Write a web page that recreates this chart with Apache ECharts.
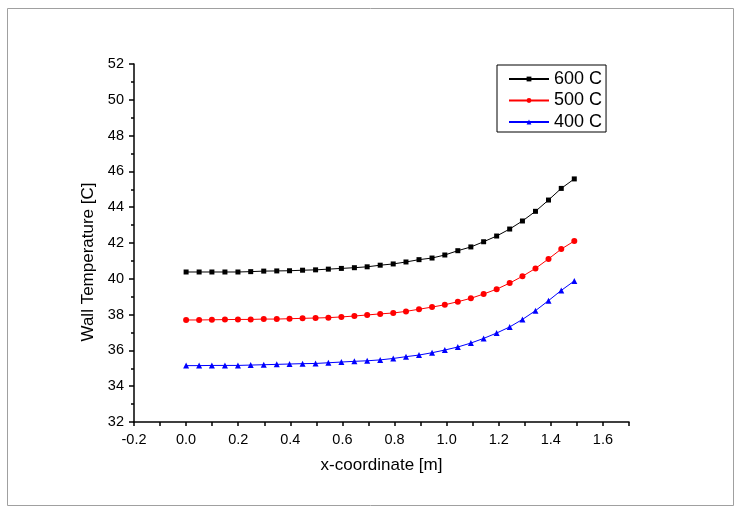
<!DOCTYPE html>
<html><head><meta charset="utf-8">
<script src="https://cdn.jsdelivr.net/npm/echarts@6/dist/echarts.min.js"></script>
<style>html,body{margin:0;padding:0;background:#fff}#c{width:742px;height:511px}</style>
</head><body><div id="c"></div>
<script>
const xValues = [0.000,0.050,0.099,0.149,0.199,0.248,0.298,0.348,0.397,0.447,0.497,0.546,0.596,0.646,0.695,0.745,0.795,0.844,0.894,0.944,0.993,1.043,1.093,1.142,1.192,1.242,1.291,1.341,1.391,1.440,1.490];
const t600 = [40.38,40.38,40.38,40.38,40.38,40.40,40.43,40.44,40.45,40.48,40.50,40.54,40.58,40.62,40.67,40.76,40.83,40.94,41.07,41.16,41.33,41.57,41.78,42.07,42.39,42.78,43.23,43.77,44.40,45.05,45.58];
const t500 = [37.70,37.70,37.71,37.72,37.73,37.73,37.75,37.75,37.77,37.79,37.81,37.83,37.87,37.92,37.98,38.04,38.09,38.18,38.30,38.42,38.55,38.72,38.91,39.15,39.42,39.76,40.14,40.58,41.11,41.66,42.11];
const t400 = [35.15,35.15,35.16,35.16,35.16,35.18,35.20,35.22,35.24,35.26,35.27,35.31,35.35,35.39,35.42,35.47,35.55,35.65,35.74,35.87,36.02,36.19,36.41,36.67,36.97,37.31,37.73,38.22,38.78,39.35,39.88];
const seriesNames = ['600 C','500 C','400 C'];
const seriesColors = ['#000000','#ff0000','#0000ff'];
const seriesSymbols = ['rect','circle','triangle'];
const seriesSizes = [5,6,6];
const xTickLabels = ['-0.2','0.0','0.2','0.4','0.6','0.8','1.0','1.2','1.4','1.6'];
const font = 'Liberation Sans, Arial, sans-serif';

const allData = [t600, t500, t400];
const chart = echarts.init(document.getElementById('c'), null, {renderer:'canvas'});
chart.setOption({
  animation: false,
  backgroundColor: '#ffffff',
  graphic: [{
    type: 'rect', shape: {x: 7.5, y: 8.5, width: 726, height: 497},
    style: {fill: 'none', stroke: '#a0a0a0', lineWidth: 1}, silent: true, z: -1
  }],
  grid: {left: 134, right: 113, top: 64, bottom: 89},
  legend: {
    orient: 'vertical', left: 497, top: 65,
    padding: [5, 4, 1, 11], itemWidth: 40, itemHeight: 6, itemGap: 3.5,
    borderColor: '#000', borderWidth: 1,
    data: seriesNames,
    textStyle: {fontFamily: font, fontSize: 18, color: '#000', lineHeight: 18}
  },
  xAxis: {
    type: 'value', min: -0.2, max: 1.7, interval: 0.1,
    name: 'x-coordinate [m]', nameLocation: 'middle', nameGap: 35,
    nameTextStyle: {fontFamily: font, fontSize: 17, color: '#000'},
    axisLine: {show: true, onZero: false, lineStyle: {color: '#000', width: 1.5}},
    axisTick: {show: true, length: 4, lineStyle: {color: '#000', width: 1.5}},
    splitLine: {show: false},
    axisLabel: {
      margin: 10, fontFamily: font, fontSize: 14.5, color: '#000',
      formatter: function (v) {
        const key = (Math.abs(v) < 1e-9 ? 0 : v).toFixed(1);
        return xTickLabels.indexOf(key) >= 0 ? key : '';
      }
    }
  },
  yAxis: {
    type: 'value', min: 32, max: 52, interval: 2,
    name: 'Wall Temperature [C]', nameLocation: 'middle', nameGap: 37,
    nameTextStyle: {fontFamily: font, fontSize: 17, color: '#000', padding: [0, 38, 0, 0]},
    axisLine: {show: true, onZero: false, lineStyle: {color: '#000', width: 1.5}},
    axisTick: {show: true, length: 5, lineStyle: {color: '#000', width: 1.5}},
    minorTick: {show: true, splitNumber: 2, length: 3, lineStyle: {color: '#000', width: 1.5}},
    splitLine: {show: false},
    axisLabel: {margin: 10, fontFamily: font, fontSize: 14.5, color: '#000'}
  },
  series: seriesNames.map(function (name, k) {
    return {
      name: name, type: 'line',
      data: xValues.map(function (x, i) { return [x, allData[k][i]]; }),
      symbol: seriesSymbols[k], symbolSize: seriesSizes[k], showAllSymbol: true,
      lineStyle: {color: seriesColors[k], width: 1},
      itemStyle: {color: seriesColors[k]},
      emphasis: {disabled: true}
    };
  })
});
</script>
</body></html>
